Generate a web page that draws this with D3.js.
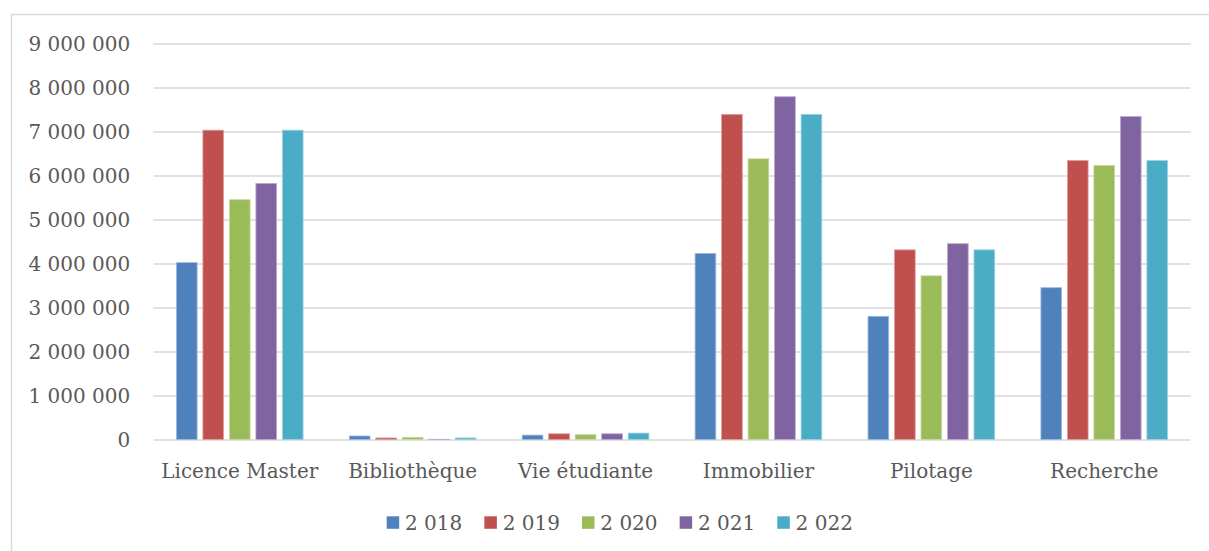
<!DOCTYPE html>
<html>
<head>
<meta charset="utf-8">
<script src="https://cdn.jsdelivr.net/npm/d3@7"></script>
<style>
  html, body { margin: 0; padding: 0; background: #ffffff; }
  svg { display: block; }
  text { font-family: "DejaVu Serif", serif; fill: #595959; }
</style>
</head>
<body>
<svg id="chart" width="1209" height="551"></svg>
<script>
const categories = ["Licence Master", "Bibliothèque", "Vie étudiante", "Immobilier", "Pilotage", "Recherche"];
const seriesNames = ["2 018", "2 019", "2 020", "2 021", "2 022"];
const values2018 = [4020000, 80000, 100000, 4230000, 2800000, 3450000];
const values2019 = [7030000, 35000, 130000, 7390000, 4310000, 6340000];
const values2020 = [5450000, 50000, 110000, 6380000, 3720000, 6230000];
const values2021 = [5820000, 5000, 130000, 7790000, 4450000, 7340000];
const values2022 = [7030000, 35000, 145000, 7390000, 4310000, 6340000];
const yTicks = [0, 1000000, 2000000, 3000000, 4000000, 5000000, 6000000, 7000000, 8000000, 9000000];
const colors = ["#4F81BD", "#C0504D", "#9BBB59", "#8064A2", "#4BACC6"];

const seriesValues = [values2018, values2019, values2020, values2021, values2022];

const svg = d3.select("#chart");
const W = 1209, H = 551;

// outer border
svg.append("path")
  .attr("d", `M11.5,${H + 2} L11.5,14.5 L${W + 2},14.5`)
  .attr("fill", "none")
  .attr("stroke", "#d9d9d9")
  .attr("stroke-width", 1.5);

const plotLeft = 153.3, plotRight = 1190.7;
const plotTop = 43.5, plotBottom = 439.5;

const y = d3.scaleLinear().domain([0, 9000000]).range([plotBottom, plotTop]);
const x0 = d3.scaleBand().domain(categories).range([plotLeft, plotRight]).padding(0);
const x1 = d3.scaleBand().domain(seriesNames).range([0, x0.bandwidth()])
  .paddingInner(0.219).paddingOuter(0.872);

const fmt = v => d3.format(",")(v).replace(/,/g, " ");

// gridlines
const yAxis = d3.axisLeft(y).tickValues(yTicks).tickSize(-(plotRight - plotLeft)).tickFormat(fmt).tickPadding(23);
const gAxis = svg.append("g").attr("transform", `translate(${plotLeft},0)`).call(yAxis);
gAxis.select(".domain").remove();
gAxis.selectAll(".tick line").attr("stroke", "#d9d9d9").attr("stroke-width", 1.6);
gAxis.selectAll(".tick text")
  .attr("font-size", 20)
  .attr("fill", "#595959")
  .style("font-family", "DejaVu Serif")
  .attr("dy", "0.37em");

// bars
const groups = svg.append("g").selectAll("g")
  .data(categories)
  .join("g")
  .attr("transform", d => `translate(${x0(d)},0)`);

groups.selectAll("rect")
  .data((c, ci) => seriesNames.map((s, si) => ({ s, si, v: seriesValues[si][ci] })))
  .join("rect")
  .attr("x", d => x1(d.s))
  .attr("width", x1.bandwidth())
  .attr("y", d => y(d.v))
  .attr("height", d => plotBottom - y(d.v))
  .attr("fill", d => colors[d.si])
  .attr("stroke", d => d3.interpolateRgb(colors[d.si], "#ffffff")(0.45))
  .attr("stroke-width", 0.8);

// category labels
svg.append("g").selectAll("text")
  .data(categories)
  .join("text")
  .attr("x", d => x0(d) + x0.bandwidth() / 2)
  .attr("y", 477.5)
  .attr("text-anchor", "middle")
  .attr("font-size", 20)
  .text(d => d);

// legend
const legendX = d3.scalePoint().domain(seriesNames).range([386.7, 777.3]);
const leg = svg.append("g").selectAll("g")
  .data(seriesNames)
  .join("g")
  .attr("transform", d => `translate(${legendX(d)},0)`);
leg.append("rect")
  .attr("x", 0).attr("y", 516.3)
  .attr("width", 12.5).attr("height", 12.5)
  .attr("fill", (d, i) => colors[i]);
leg.append("text")
  .attr("x", 18.3).attr("y", 530)
  .attr("font-size", 20)
  .text(d => d);
</script>
</body>
</html>
